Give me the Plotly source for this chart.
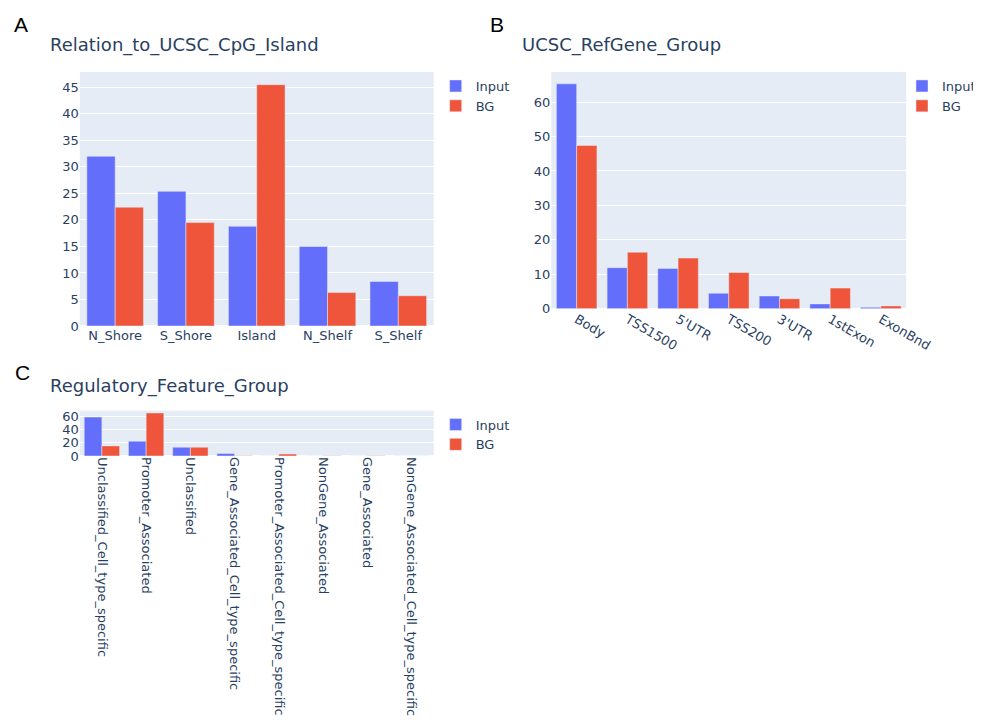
import plotly.graph_objects as go

W, H = 981, 720
OFF = 8  # browser default body margin

cpg_cats = ["N_Shore", "S_Shore", "Island", "N_Shelf", "S_Shelf"]
cpg_input = [32.0, 25.4, 18.8, 15.0, 8.4]
cpg_bg = [22.4, 19.5, 45.5, 6.3, 5.7]

ref_cats = ["Body", "TSS1500", "5'UTR", "TSS200", "3'UTR", "1stExon", "ExonBnd"]
ref_input = [65.3, 11.9, 11.7, 4.5, 3.7, 1.4, 0.4]
ref_bg = [47.4, 16.4, 14.7, 10.5, 2.9, 6.0, 0.8]

reg_cats = ["Unclassified_Cell_type_specific", "Promoter_Associated", "Unclassified",
            "Gene_Associated_Cell_type_specific", "Promoter_Associated_Cell_type_specific",
            "NonGene_Associated", "Gene_Associated", "NonGene_Associated_Cell_type_specific"]
reg_input = [59.0, 22.4, 13.3, 3.8, 0.1, 0.1, 0.1, 0.05]
reg_bg = [15.3, 65.2, 13.3, 0.3, 3.0, 0.5, 0.3, 0.1]

titles = ["Relation_to_UCSC_CpG_Island", "UCSC_RefGene_Group", "Regulatory_Feature_Group"]
panel_labels = ["A", "B", "C"]

FONT = "Verdana, DejaVu Sans, sans-serif"
C_IN = "#636efa"
C_BG = "#EF553B"

FW, FH = W - OFF, H - OFF

def px_x(v):
    return (v - OFF) / FW

def px_y(v):
    return 1 - (v - OFF) / FH

fig = go.Figure()

panels = [
    dict(cats=cpg_cats, a=cpg_input, b=cpg_bg, xa="x", ya="y", leg="legend",
         xd=[80, 435], yd=[326, 72], dtick=5, angle=0),
    dict(cats=ref_cats, a=ref_input, b=ref_bg, xa="x2", ya="y2", leg="legend2",
         xd=[553, 909], yd=[308.7, 72], dtick=10, angle=30),
    dict(cats=reg_cats, a=reg_input, b=reg_bg, xa="x3", ya="y3", leg="legend3",
         xd=[80, 435], yd=[456, 410.7], dtick=20, angle=90),
]

layout = dict(
    width=FW, height=FH, margin=dict(l=0, r=0, t=0, b=0),
    template="plotly", barmode="group",
    paper_bgcolor="white", plot_bgcolor="#E5ECF6",
    font=dict(family=FONT, size=13, color="#2a3f5f"),
)

leg_pos = [(437, 71), (905, 71), (437, 409.5)]

for i, p in enumerate(panels):
    fig.add_trace(go.Bar(x=p["cats"], y=p["a"], name="Input", marker_color=C_IN,
                         xaxis=p["xa"], yaxis=p["ya"], legend=p["leg"]))
    fig.add_trace(go.Bar(x=p["cats"], y=p["b"], name="BG", marker_color=C_BG,
                         xaxis=p["xa"], yaxis=p["ya"], legend=p["leg"]))
    sfx = "" if i == 0 else str(i + 1)
    layout["xaxis" + sfx] = dict(domain=[px_x(p["xd"][0]), px_x(p["xd"][1])],
                                 anchor="y" + sfx, tickangle=p["angle"],
                                 automargin=False, showgrid=False,
                                 tickfont=dict(size=13))
    layout["yaxis" + sfx] = dict(domain=[px_y(p["yd"][0]), px_y(p["yd"][1])],
                                 anchor="x" + sfx, dtick=p["dtick"],
                                 automargin=False, gridcolor="white",
                                 zerolinecolor="white", tickfont=dict(size=13))
    lx, ly = leg_pos[i]
    layout["legend" + sfx] = dict(x=px_x(lx), y=px_y(ly), xanchor="left", yanchor="top",
                                  xref="paper", yref="paper",
                                  font=dict(family=FONT, size=13, color="#2a3f5f"),
                                  bgcolor="rgba(0,0,0,0)")

fig.update_layout(**layout)

title_pos = [(48, 45), (522, 45), (48, 386)]
label_pos = [(12, 25), (489, 25), (13, 372)]
for i in range(3):
    tx, ty = title_pos[i]
    fig.add_annotation(text=titles[i], x=px_x(tx), y=px_y(ty), xref="paper", yref="paper",
                       xanchor="left", yanchor="middle", showarrow=False,
                       font=dict(family=FONT, size=18, color="#2a3f5f"))
    lx, ly = label_pos[i]
    fig.add_annotation(text=panel_labels[i], x=px_x(lx), y=px_y(ly), xref="paper", yref="paper",
                       xanchor="left", yanchor="middle", showarrow=False,
                       font=dict(family="Liberation Sans, Arial, sans-serif", size=21, color="black"))

fig.write_html("out.html")
